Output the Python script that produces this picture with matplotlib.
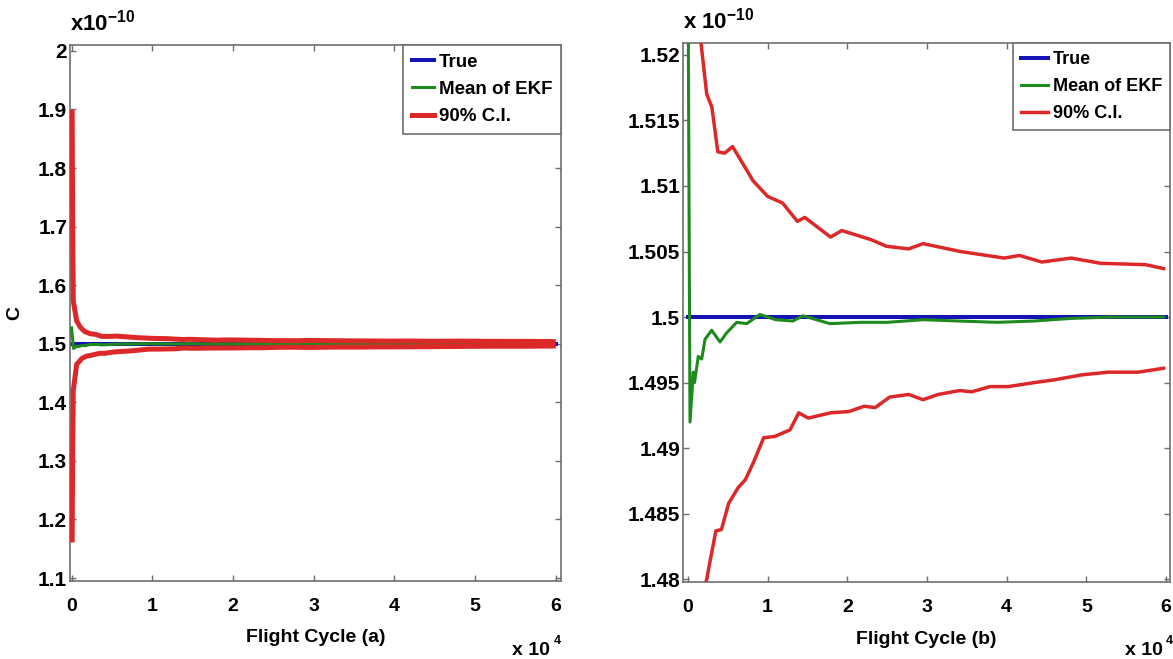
import matplotlib
matplotlib.use("Agg")
import matplotlib.pyplot as plt
from matplotlib.ticker import FuncFormatter, MultipleLocator

plt.rcParams['font.family'] = ['Liberation Sans', 'DejaVu Sans']
plt.rcParams['font.weight'] = 'bold'
plt.rcParams['mathtext.fontset'] = 'custom'
plt.rcParams['mathtext.rm'] = 'Liberation Sans:bold'
plt.rcParams['mathtext.it'] = 'Liberation Sans:bold'
plt.rcParams['mathtext.bf'] = 'Liberation Sans:bold'

# ---------------- data (C in units of 1e-10, x in flight cycles) ----------------
true_x = [0, 60000]
true_c = [1.5, 1.5]

mean_x = [0, 250, 665, 815, 1290, 1720, 2130, 2970, 4015, 4855, 6110, 7365, 9030,
          11000, 13170, 14430, 17820, 21580, 25000, 29500, 34000, 38800, 43400,
          48100, 53000, 59700]
mean_c = [1.527, 1.4920, 1.4958, 1.4950, 1.4970, 1.4968, 1.4983, 1.4990, 1.4981,
          1.4988, 1.4996, 1.4995, 1.5002, 1.4998, 1.4997, 1.5001, 1.4995, 1.4996,
          1.4996, 1.4998, 1.4997, 1.4996, 1.4997, 1.4999, 1.5000, 1.5000]

upper_x = [80, 150, 220, 640, 1100, 1630, 2350, 3000, 3740, 4600, 5600, 8160, 10000,
           11870, 13730, 14660, 17900, 19300, 23000, 24900, 27700, 29500, 34200,
           39700, 41600, 44400, 48100, 51800, 57400, 59700]
upper_c = [1.895, 1.70, 1.573, 1.539, 1.528, 1.5209, 1.5170, 1.5160, 1.5126, 1.5125,
           1.5130, 1.5104, 1.5092, 1.5087, 1.5073, 1.5076, 1.5061, 1.5066, 1.5059,
           1.5054, 1.5052, 1.5056, 1.5050, 1.5045, 1.5047, 1.5042, 1.5045, 1.5041,
           1.5040, 1.5037]

lower_x = [80, 150, 220, 640, 1300, 1880, 2350, 2800, 3500, 4200, 5100, 6300, 7200,
           8200, 9500, 10900, 12800, 13900, 15100, 17900, 20200, 22100, 23500, 25300,
           27700, 29500, 31400, 34100, 35600, 37900, 40200, 43400, 45800, 49500,
           52800, 56500, 59700]
lower_c = [1.165, 1.32, 1.42, 1.465, 1.475, 1.479, 1.4800, 1.4815, 1.4837, 1.4838,
           1.4858, 1.4870, 1.4876, 1.4889, 1.4908, 1.4909, 1.4914, 1.4927, 1.4923,
           1.4927, 1.4928, 1.4932, 1.4931, 1.4939, 1.4941, 1.4937, 1.4941, 1.4944,
           1.4943, 1.4947, 1.4947, 1.4950, 1.4952, 1.4956, 1.4958, 1.4958, 1.4961]

legend_labels = ['True', 'Mean of EKF', '90% C.I.']
xlabels = ['Flight Cycle (a)', 'Flight Cycle (b)']

# ---------------- styling ----------------
BLUE = '#1414b4'
GREEN = '#1e8a1e'
RED = '#dc2828'
SPINE = '#6e6e6e'

W, H = 1173, 659
fig = plt.figure(figsize=(W / 100, H / 100), dpi=100)


def fx(px):
    return px / W


def fy(py):
    return 1 - py / H


def axes_rect(l, r, t, b):
    return [fx(l), fy(b), (r - l) / W, (b - t) / H]


ax1 = fig.add_axes(axes_rect(70, 561, 45, 581))
ax2 = fig.add_axes(axes_rect(683, 1170, 43, 582))

panels = [
    dict(ax=ax1, xlim=(-186, 60657), ylim=(1.095, 2.01), ystep=0.1, red_lw=3.6,
         handlelength=1.2, legfs=13.5, xlabel=xlabels[0]),
    dict(ax=ax2, xlim=(-628, 60500), ylim=(1.4798, 1.5209), ystep=0.005, red_lw=2.5,
         handlelength=1.5, legfs=13, xlabel=xlabels[1]),
]

for p in panels:
    ax = p['ax']
    ax.plot(true_x, true_c, color=BLUE, lw=2.9, label=legend_labels[0], zorder=2)
    ax.plot(mean_x, mean_c, color=GREEN, lw=2.2, label=legend_labels[1], zorder=3)
    ax.plot(upper_x, upper_c, color=RED, lw=p['red_lw'], label=legend_labels[2], zorder=4)
    ax.plot(lower_x, lower_c, color=RED, lw=p['red_lw'], label='_nolegend_', zorder=4)

    ax.set_xlim(*p['xlim'])
    ax.set_ylim(*p['ylim'])
    ax.xaxis.set_major_locator(MultipleLocator(10000))
    ax.xaxis.set_major_formatter(FuncFormatter(lambda v, pos: f'{v / 1e4:g}'))
    ax.yaxis.set_major_locator(MultipleLocator(p['ystep']))
    ax.yaxis.set_major_formatter(FuncFormatter(lambda v, pos: f'{v:.6g}'))

    for s in ax.spines.values():
        s.set_color(SPINE)
        s.set_linewidth(1.2)
    ax.tick_params(direction='in', top=True, right=True, length=4, width=1,
                   color=SPINE, labelcolor='black')
    ax.tick_params(axis='x', labelsize=14, pad=12)
    ax.tick_params(axis='y', labelsize=15, pad=2)

    ax.set_xlabel(p['xlabel'], fontsize=14, fontweight='bold')
    ax.xaxis.set_label_coords(0.5, -0.090)

    leg = ax.legend(loc='upper right', bbox_to_anchor=(1, 1), borderaxespad=0,
                    fontsize=p['legfs'], handlelength=p['handlelength'],
                    handletextpad=0.25, borderpad=0.45, labelspacing=0.55,
                    fancybox=False, framealpha=1, edgecolor=SPINE)
    leg.get_frame().set_linewidth(1.2)

ax1.set_ylabel('C', fontsize=14, fontweight='bold')
ax1.yaxis.set_label_coords(-0.095, 0.5)

# exponent annotations
fig.text(fx(70), fy(31), r'x10$^{-10}$', fontsize=16, ha='left', va='baseline')
fig.text(fx(683), fy(28), r'x 10$^{-10}$', fontsize=16, ha='left', va='baseline')
fig.text(fx(512), fy(655), 'x 10', fontsize=14, ha='left', va='baseline')
fig.text(fx(554), fy(644), '4', fontsize=9, ha='left', va='baseline')
fig.text(fx(1125), fy(655), 'x 10', fontsize=14, ha='left', va='baseline')
fig.text(fx(1166), fy(644), '4', fontsize=9, ha='left', va='baseline')

fig.savefig('out.png', dpi=100)
